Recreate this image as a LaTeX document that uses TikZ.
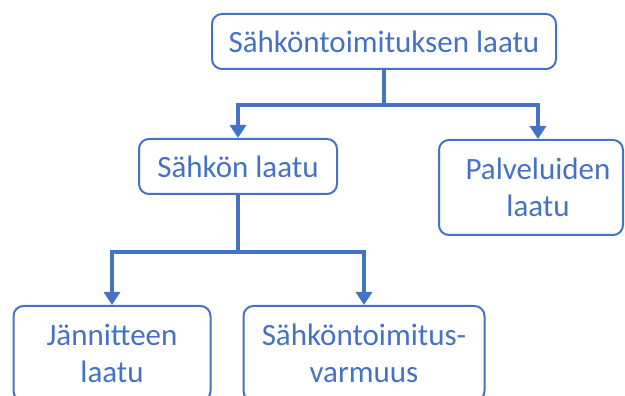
\documentclass[tikz,border=0pt]{standalone}
\usepackage{fontspec}
\setmainfont{Carlito}
\usetikzlibrary{arrows.meta}
\definecolor{treeblue}{HTML}{4472C4}

\begin{document}
\begin{tikzpicture}[
  x=1pt,
  y=1pt,
  every node/.style={font=\fontsize{31}{37}\selectfont, treeblue, align=center},
  box/.style={draw=treeblue, line width=2pt, rounded corners=10pt, inner sep=0pt},
  link/.style={treeblue, line width=4.5pt, -{Triangle[width=16pt,length=13pt]}}
]
  % ---- page frame ------------------------------------------------------
  \useasboundingbox (0,0) rectangle (625,396);
  \clip (0,0) rectangle (625,396);

  % ---- the boxes -------------------------------------------------------
  \node[box, minimum width=344pt, minimum height=55pt] (toimitus) at (384,354.5)
    {Sähköntoimituksen laatu};
  \node[box, minimum width=198pt, minimum height=55pt] (sahko) at (238,229.5)
    {Sähkön laatu};
  % text sits a little right of the box middle
  \node[box, minimum width=184pt, minimum height=95pt] (palvelu) at (531,208.5)
    {\hspace*{14pt}Palveluiden\\\hspace*{14pt}laatu};
  \node[box, minimum width=197pt, minimum height=95pt] (jannite) at (112,42.5)
    {Jännitteen\\laatu};
  \node[box, minimum width=241pt, minimum height=95pt] (varmuus) at (364,42.5)
    {Sähköntoimitus-\\varmuus};

  % ---- where the branches split ----------------------------------------
  \coordinate (split1) at (384,291);
  \coordinate (split2) at (238,144);

  % ---- the connectors --------------------------------------------------
  \draw[link] (toimitus) -- (split1) -| (sahko);
  \draw[link] (toimitus) -- (split1) -| ([xshift=7pt]palvelu.north);
  \draw[link] (sahko) -- (split2) -| (jannite);
  \draw[link] (sahko) -- (split2) -| (varmuus);
\end{tikzpicture}
\end{document}
